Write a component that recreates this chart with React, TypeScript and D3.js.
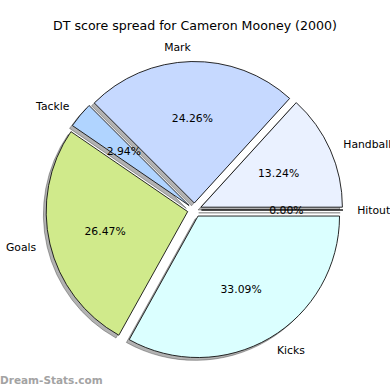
import React from 'react';
import * as d3 from 'd3';

// DT points per stat, in matplotlib's counter-clockwise order from 3 o'clock
const categories = ['Hitout', 'Handball', 'Mark', 'Tackle', 'Goals', 'Kicks'];
const points = [0, 18, 33, 4, 36, 45];
const wedgeColors = ['#f4f4ff', '#eaf1ff', '#c6d9ff', '#b0d4ff', '#d0ea8b', '#dbffff'];

const titleText = 'DT score spread for Cameron Mooney (2000)';

const App = () => {
  const width = 390;
  const height = 390;
  const cx = 194.5;
  const cy = 210;
  const r = 141.5;
  const explode = 7;
  const shadowOff = 0.02 * r;

  const total = d3.sum(points);

  // start at 3 o'clock and go counter-clockwise like matplotlib
  const pie = d3.pie<number>()
    .sort(null)
    .value(d => d)
    .startAngle(Math.PI / 2)
    .endAngle(Math.PI / 2 - 2 * Math.PI);

  const arcs = pie(points);
  const arcGen = d3.arc<d3.PieArcDatum<number>>().innerRadius(0).outerRadius(r);

  const shift = (a: d3.PieArcDatum<number>, dist: number) => {
    const mid = (a.startAngle + a.endAngle) / 2;
    return [Math.sin(mid) * dist, -Math.cos(mid) * dist];
  };

  const font = 'DejaVu Sans, sans-serif';

  return (
    <svg width={width} height={height} style={{ position: 'absolute', left: 0, top: 0, background: '#fff' }}>
      <text x={width / 2} y={30} textAnchor="middle" fontFamily={font} fontSize={12.6} fill="#000">
        {titleText}
      </text>

      <g transform={`translate(${cx},${cy})`}>
        {/* shadows */}
        {arcs.map((a, i) => {
          const [dx, dy] = shift(a, explode);
          return (
            <path
              key={'s' + i}
              d={arcGen(a) || ''}
              transform={`translate(${dx - shadowOff},${dy + shadowOff})`}
              fill="#000"
              fillOpacity={0.3}
              stroke="#000"
              strokeOpacity={0.3}
              strokeWidth={1}
            />
          );
        })}
        {/* wedges */}
        {arcs.map((a, i) => {
          const [dx, dy] = shift(a, explode);
          return (
            <path
              key={'w' + i}
              d={arcGen(a) || ''}
              transform={`translate(${dx},${dy})`}
              fill={wedgeColors[i]}
              stroke="#111"
              strokeWidth={0.9}
              strokeLinejoin="round"
            />
          );
        })}
        {/* labels */}
        {arcs.map((a, i) => {
          const [dx, dy] = shift(a, explode);
          const mid = (a.startAngle + a.endAngle) / 2;
          const lx = dx + Math.sin(mid) * r * 1.1;
          const ly = dy - Math.cos(mid) * r * 1.1;
          const px = dx + Math.sin(mid) * r * 0.6;
          const py = dy - Math.cos(mid) * r * 0.6;
          return (
            <g key={'l' + i} fontFamily={font} fontSize={10.8} fill="#000">
              <text x={lx} y={ly} dy="0.35em" textAnchor={Math.sin(mid) > 0 ? 'start' : 'end'}>
                {categories[i]}
              </text>
              <text x={px} y={py} dy="0.35em" textAnchor="middle">
                {((points[i] / total) * 100).toFixed(2) + '%'}
              </text>
            </g>
          );
        })}
      </g>

      <text x={0} y={383.5} fontFamily={font} fontSize={10.5} fontWeight="bold" fill="#a3a3a3">
        Dream-Stats.com
      </text>
    </svg>
  );
};

export default App;
